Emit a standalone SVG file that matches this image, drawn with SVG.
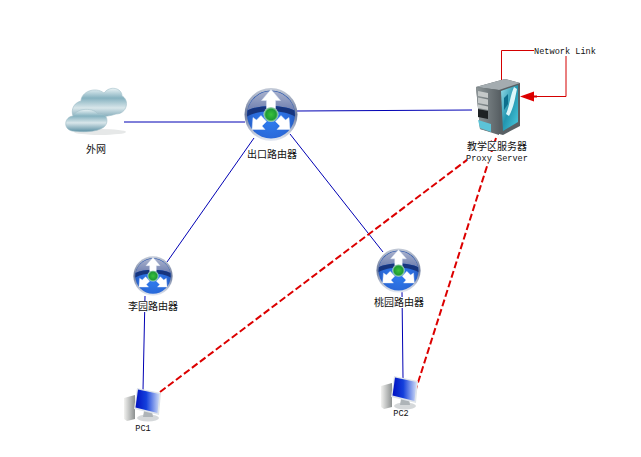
<svg xmlns="http://www.w3.org/2000/svg" width="641" height="457" viewBox="0 0 641 457">
<style>
.lbl{font-family:"Noto Sans CJK SC","Liberation Sans",sans-serif;font-size:10px;fill:#111;text-anchor:middle}
.mono{font-family:"Liberation Mono",monospace;font-size:8.6px;fill:#111;text-anchor:middle}
.blue{fill:none;stroke:#0000b4;stroke-width:1}
.dash{fill:none;stroke:#dc0000;stroke-width:2;stroke-dasharray:7 3}
.red{fill:none;stroke:#d40000;stroke-width:1}
.bg{fill:#fff}
.arw{fill:#fff;stroke:#dde6f6;stroke-width:.5}
</style>
<defs>
<radialGradient id="rt" cx="50%" cy="60%" r="60%"><stop offset="0" stop-color="#2f7df0"/><stop offset=".65" stop-color="#2a6ada"/><stop offset="1" stop-color="#2350a8"/></radialGradient>
<linearGradient id="rim" x1="0" y1="0" x2="0" y2="1"><stop offset="0" stop-color="#c4cbd8"/><stop offset=".5" stop-color="#6e7c9e"/><stop offset="1" stop-color="#e6ebf4"/></linearGradient>
<linearGradient id="top" x1="0" y1="0" x2="0" y2="1"><stop offset="0" stop-color="#a8b1cc"/><stop offset="1" stop-color="#6f7fb0"/></linearGradient>
<radialGradient id="hub" cx="50%" cy="50%" r="50%"><stop offset="0" stop-color="#3ac23c"/><stop offset=".7" stop-color="#1f9c35"/><stop offset="1" stop-color="#b8dcd0"/></radialGradient>
<linearGradient id="cl" x1="0" y1="0" x2="0" y2="1"><stop offset="0" stop-color="#eaf3f5"/><stop offset=".3" stop-color="#86b2c0"/><stop offset=".6" stop-color="#d8e6ea"/><stop offset="1" stop-color="#5c90a4"/></linearGradient>
<linearGradient id="scr" x1="0" y1="0" x2="1" y2="0"><stop offset="0" stop-color="#0010c0"/><stop offset=".45" stop-color="#1440dc"/><stop offset="1" stop-color="#d0dcf6"/></linearGradient>
<linearGradient id="tw" x1="0" y1="0" x2="1" y2="0"><stop offset="0" stop-color="#f2f2f0"/><stop offset="1" stop-color="#8c9090"/></linearGradient>
<linearGradient id="glass" x1="0" y1="0" x2="1" y2="1"><stop offset="0" stop-color="#9adfea"/><stop offset=".5" stop-color="#2296b0"/><stop offset="1" stop-color="#4ccce0"/></linearGradient>
<linearGradient id="front" x1="0" y1="0" x2="1" y2="0"><stop offset="0" stop-color="#8e9698"/><stop offset="1" stop-color="#5a6266"/></linearGradient>
<symbol id="router" viewBox="-27 -27 54 54" overflow="visible">
<circle r="26.500" fill="url(#rim)"/>
<circle r="24" fill="url(#rt)"/>
<path d="M-23.500-4A24 24 0 0 1 23.500-4C12-10-12-10-23.500-4Z" fill="url(#top)"/>
<path d="M-23.500-4C-12-10 12-10 23.500-4L24 2C12-5-12-5-24 2Z" fill="#17357e"/>
<path class="arw" d="M0-25 9.500-14H4.500V-6H-4.500V-14H-9.500Z"/>
<path class="arw" d="M-19 15-18 3-14.500 5.500-10 1-4.500 7-9 11.500-6 15Z"/>
<path class="arw" d="M19 15 18 3 14.500 5.500 10 1 4.500 7 9 11.500 6 15Z"/>
<circle r="7.500" cy="0" fill="url(#hub)"/>
</symbol>
<symbol id="pc" viewBox="0 0 40 32" overflow="visible">
<path d="M0 9 11 6V30L3 32 0 30Z" fill="url(#tw)"/>
<ellipse cx="24" cy="29" rx="11" ry="3.500" fill="#d5d8da"/>
<path d="M20 22H28L29 28H19Z" fill="#aeb4b8"/>
<path d="M13-1 37 4 35 26 10 20Z" fill="#dfe4ea"/>
<path d="M14 .5 35.500 5 33.500 24 11.500 18.500Z" fill="url(#scr)"/>
</symbol>
</defs>
<rect width="641" height="457" fill="#fff"/>
<g id="connectors">
<path class="blue" d="M124 122H245"/>
<path class="blue" d="M297 111 472 110"/>
<path class="blue" d="M254 138 167 262"/>
<path class="blue" d="M290 134 383 252"/>
<path class="blue" d="M145 296 143 390"/>
<path class="blue" d="M402 292 403 378"/>
<path class="dash" d="M160 392 492 141"/>
<path class="dash" d="M415 392 496 138"/>
<path class="red" d="M534 50.500H501.500V80"/>
<path class="red" d="M566 50.500V96.500H530"/>
<path d="M520 96.500 534 91.500V101.500Z" fill="#e00000"/>
<path d="M526 96.500H537" stroke="#d40000" stroke-width="2"/>
</g>
<g id="cloud">
<ellipse cx="100" cy="132" rx="26" ry="3" fill="#e6e8e8"/>
<path d="M80 121C70 120 69 104 81 101 81 92 95 86 104 93 110 85 122 88 122 96 130 100 127 114 116 114 105 118 92 116 80 121Z" fill="url(#cl)" stroke="#a0bec8" stroke-width=".6"/>
<path d="M72 131C63 129 64 117 73 116 78 107 94 108 98 114 108 112 109 123 104 127 96 133 80 132 72 131Z" fill="url(#cl)" stroke="#a0bec8" stroke-width=".6"/>
<text class="lbl" x="96" y="153">外网</text>
</g>
<g id="router-main">
<use href="#router" x="244" y="87.500" width="54" height="54"/>
<rect class="bg" x="247" y="149" width="50" height="11"/>
<text class="lbl" x="272" y="158">出口路由器</text>
</g>
<g id="router-liyuan">
<use href="#router" x="133" y="256" width="40" height="40"/>
<rect class="bg" x="128" y="301" width="50" height="11"/>
<text class="lbl" x="153" y="310">李园路由器</text>
</g>
<g id="router-taoyuan">
<use href="#router" x="376" y="248" width="45" height="45"/>
<rect class="bg" x="374" y="297" width="50" height="11"/>
<text class="lbl" x="399" y="306">桃园路由器</text>
</g>
<g id="server">
<path d="M476 87 505 79 520 83V126L503 135 480 129Z" fill="#596064"/>
<path d="M476 87 505 79 520 83 499 90Z" fill="#a4acb0"/>
<path d="M476 87 499 90V135L480 129Z" fill="url(#front)"/>
<path d="M478 91 488 93V98L478 96ZM478 97.500 488 99.500V105L478 103ZM478 104.500 488 106.500V110L478 108Z" fill="#c4c8c8"/>
<path d="M478 109 488 111V119L478 117Z" fill="#1e2224"/>
<path d="M478 120 491 124V132L480 128Z" fill="#5cc4d8"/>
<path d="M501 91 518 85V122L503 131Z" fill="url(#glass)"/>
<path d="M506 114C510 104 510 96 514 87L517 89C515 98 514 107 509 116Z" fill="#dcf6fa"/>
<path d="M504 98 508 94V104L504 110Z" fill="#0e6f8c"/>
<rect class="bg" x="467" y="141" width="60" height="10"/>
<text class="lbl" x="497" y="150">教学区服务器</text>
<rect class="bg" x="467" y="152" width="60" height="11"/>
<text class="mono" x="497" y="161">Proxy Server</text>
</g>
<g id="link-label">
<rect class="bg" x="534" y="46" width="62" height="10"/>
<text class="mono" x="565" y="54">Network Link</text>
</g>
<g id="pc1">
<use href="#pc" x="124" y="389" width="40" height="32"/>
<text class="mono" x="143" y="431">PC1</text>
</g>
<g id="pc2">
<use href="#pc" x="381" y="377" width="40" height="32"/>
<text class="mono" x="401" y="416">PC2</text>
</g>
</svg>
